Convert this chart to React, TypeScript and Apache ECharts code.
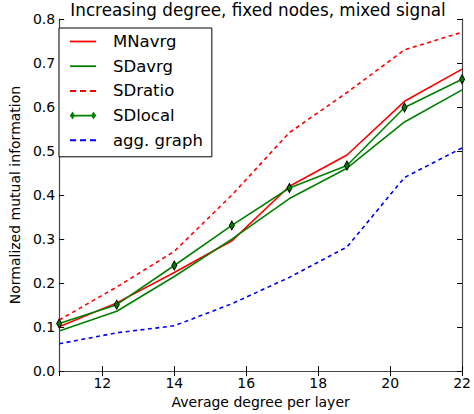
import React, { useEffect, useRef } from "react";
import * as echarts from "echarts";

const xValues = [10.8, 12.4, 14.0, 15.6, 17.2, 18.8, 20.4, 22.0];
const mnAvrg = [0.101, 0.155, 0.224, 0.296, 0.42, 0.491, 0.613, 0.686];
const sdAvrg = [0.091, 0.136, 0.215, 0.3, 0.392, 0.461, 0.566, 0.639];
const sdRatio = [0.116, 0.191, 0.272, 0.4, 0.542, 0.633, 0.73, 0.77];
const sdLocal = [0.108, 0.151, 0.24, 0.331, 0.416, 0.467, 0.599, 0.663];
const aggGraph = [0.062, 0.087, 0.103, 0.153, 0.213, 0.282, 0.44, 0.507];
const yTicks = [0, 0.1, 0.2, 0.3, 0.4, 0.5, 0.6, 0.7, 0.8];

const FONT = "DejaVu Sans";

const ICON_SOLID = "path://M0,0 h26 v1.8 h-26 z";
const ICON_DASHED = "path://M0,0 h5.5 v1.8 h-5.5 z M9,0 h5.5 v1.8 h-5.5 z M18,0 h5.5 v1.8 h-5.5 z";
const ICON_MARKED =
  "path://M0,3.1 h26 v1.8 h-26 z M2.5,0 L5,4 L2.5,8 L0,4 z M23.5,0 L26,4 L23.5,8 L21,4 z";

function pairs(ys: number[]) {
  return xValues.map((x, i) => [x, ys[i]]);
}

export default function App() {
  const ref = useRef<HTMLDivElement>(null);
  useEffect(() => {
    if (!ref.current) return;
    const chart = echarts.init(ref.current, null, { renderer: "svg" });
    const axisLine = { show: true, lineStyle: { color: "#444", width: 1.2 } };
    const tick = { show: true, inside: true, length: 5, lineStyle: { color: "#000", width: 1 } };
    const xMin = xValues[0];
    const xMax = xValues[xValues.length - 1];
    const yMin = yTicks[0];
    const yMax = yTicks[yTicks.length - 1];
    chart.setOption({
      animation: false,
      backgroundColor: "#fff",
      title: {
        text: "Increasing degree, fixed nodes, mixed signal",
        left: 258,
        top: 1,
        padding: 0,
        textAlign: "center",
        textStyle: { fontFamily: FONT, fontSize: 16.8, fontWeight: "normal", color: "#000" },
      },
      grid: { left: 52, right: 9, top: 19, bottom: 39 },
      legend: {
        orient: "vertical",
        left: 59,
        top: 28,
        itemWidth: 26,
        itemHeight: 14,
        itemGap: 7.7,
        padding: [5, 9, 8, 11],
        borderColor: "#000",
        borderWidth: 1,
        backgroundColor: "#fff",
        selectedMode: false,
        symbolKeepAspect: true,
        itemStyle: { borderWidth: 0 },
        textStyle: { fontFamily: FONT, fontSize: 16.5, color: "#000", padding: [0, 0, 0, 12] },
        data: [
          { name: "MNavrg", icon: ICON_SOLID },
          { name: "SDavrg", icon: ICON_SOLID },
          { name: "SDratio", icon: ICON_DASHED },
          { name: "SDlocal", icon: ICON_MARKED },
          { name: "agg. graph", icon: ICON_DASHED },
        ],
      },
      xAxis: [
        {
          type: "value",
          min: xMin,
          max: xMax,
          splitNumber: 6,
          name: "Average degree per layer",
          nameLocation: "middle",
          nameGap: 18,
          nameTextStyle: { fontFamily: FONT, fontSize: 14, color: "#000" },
          axisLine,
          axisTick: tick,
          splitLine: { show: false },
          axisLabel: {
            fontFamily: FONT,
            fontSize: 14,
            color: "#000",
            margin: 5,
            showMinLabel: false,
            formatter: (v: number) => (Number.isInteger(v) ? String(v) : ""),
          },
        },
        {
          type: "value",
          position: "top",
          min: xMin,
          max: xMax,
          splitNumber: 6,
          axisLine,
          axisTick: tick,
          splitLine: { show: false },
          axisLabel: { show: false },
        },
      ],
      yAxis: [
        {
          type: "value",
          min: yMin,
          max: yMax,
          interval: 0.1,
          name: "Normalized mutual information",
          nameLocation: "middle",
          nameGap: 30,
          nameTextStyle: { fontFamily: FONT, fontSize: 14, color: "#000" },
          axisLine,
          axisTick: tick,
          splitLine: { show: false },
          axisLabel: {
            fontFamily: FONT,
            fontSize: 14,
            color: "#000",
            margin: 4,
            formatter: (v: number) => v.toFixed(1),
          },
        },
        {
          type: "value",
          position: "right",
          min: yMin,
          max: yMax,
          interval: 0.1,
          axisLine,
          axisTick: tick,
          splitLine: { show: false },
          axisLabel: { show: false },
        },
      ],
      series: [
        {
          name: "MNavrg",
          type: "line",
          data: pairs(mnAvrg),
          symbol: "none",
          color: "#ff0000",
          lineStyle: { color: "#ff0000", width: 1.6 },
        },
        {
          name: "SDavrg",
          type: "line",
          data: pairs(sdAvrg),
          symbol: "none",
          color: "#008000",
          lineStyle: { color: "#008000", width: 1.6 },
        },
        {
          name: "SDratio",
          type: "line",
          data: pairs(sdRatio),
          symbol: "none",
          color: "#ff0000",
          lineStyle: { color: "#ff0000", width: 1.6, type: [4, 3.5] },
        },
        {
          name: "SDlocal",
          type: "line",
          data: pairs(sdLocal),
          symbol: "diamond",
          symbolSize: [5, 9],
          color: "#008000",
          itemStyle: { color: "#008000", borderColor: "#000", borderWidth: 1 },
          lineStyle: { color: "#008000", width: 1.6 },
        },
        {
          name: "agg. graph",
          type: "line",
          data: pairs(aggGraph),
          symbol: "none",
          color: "#0000ff",
          lineStyle: { color: "#0000ff", width: 1.6, type: [4, 3.5] },
        },
      ],
    });
    return () => chart.dispose();
  }, []);
  return (
    <div
      ref={ref}
      style={{ position: "fixed", left: 0, top: 0, width: 474, height: 414, background: "#fff" }}
    />
  );
}
